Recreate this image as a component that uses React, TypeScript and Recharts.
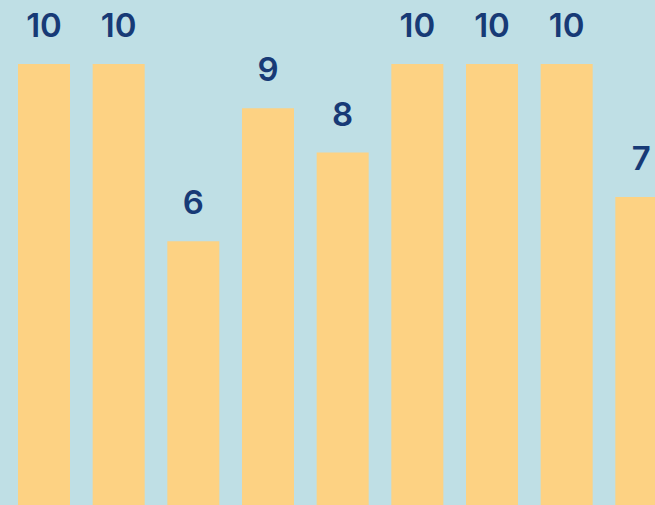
import { Bar, BarChart, LabelList, XAxis, YAxis } from "recharts";

const categories = ["A", "B", "C", "D", "E", "F", "G", "H", "I"];
const scores = [10, 10, 6, 9, 8, 10, 10, 10, 7];

const data = categories.map((name, i) => ({ name, value: scores[i] }));

export default function App() {
  return (
    <div
      style={{
        position: "fixed",
        top: 0,
        left: 0,
        width: 655,
        height: 505,
        overflow: "hidden",
        background: "#bfdfe5",
      }}
    >
      <BarChart
        width={700}
        height={520}
        data={data}
        margin={{ top: 64, right: 21, bottom: 13, left: 7 }}
        barCategoryGap={0}
      >
        <XAxis dataKey="name" hide />
        <YAxis domain={[0, 10]} hide />
        <Bar dataKey="value" fill="#fdd283" barSize={52} isAnimationActive={false}>
          <LabelList
            dataKey="value"
            position="top"
            offset={27}
            fill="#173a76"
            fontFamily="Inter"
            fontWeight={600}
            fontSize={33}
          />
        </Bar>
      </BarChart>
    </div>
  );
}
